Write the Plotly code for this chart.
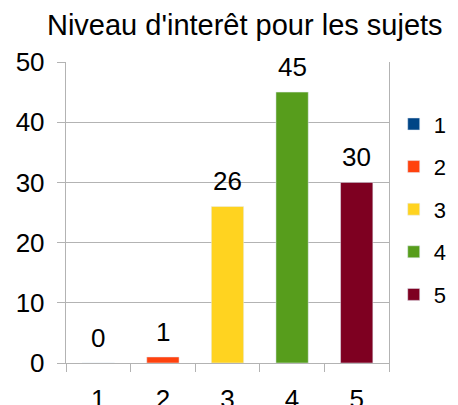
import plotly.graph_objects as go

categories = ["1", "2", "3", "4", "5"]
values = [0, 1, 26, 45, 30]
series_names = ["1", "2", "3", "4", "5"]
colors = ["#004586", "#ff420e", "#ffd320", "#579d1c", "#7e0021"]

font = "Liberation Sans, Arial, sans-serif"

fig = go.Figure()
for i, (cat, val, name, col) in enumerate(zip(categories, values, series_names, colors)):
    fig.add_trace(go.Bar(
        x=[cat], y=[val], name=name, marker_color=col, width=0.5,
        legendgroup=name,
    ))
    fig.add_annotation(x=i, y=val, xref="x", yref="y", text=str(val), showarrow=False,
                       yshift=25, yanchor="middle", xanchor="center",
                       font=dict(size=26, color="black", family=font))

fig.update_layout(
    width=458, height=405,
    margin=dict(l=58, r=77, t=54, b=50),
    paper_bgcolor="white", plot_bgcolor="white",
    barmode="overlay",
    font=dict(family=font, size=26, color="black"),
    title=dict(text="Niveau d'interêt pour les sujets", x=0.517, xanchor="center",
               y=0.958, yanchor="middle", font=dict(size=29, color="black")),
    showlegend=True,
    legend=dict(xref="container", yref="container", x=0.864, xanchor="left",
                y=0.765, yanchor="top", font=dict(size=22), indentation=-10,
                tracegroupgap=11, traceorder="grouped", itemwidth=30),
    xaxis=dict(type="category", categoryorder="array", categoryarray=categories,
               range=[-0.5, 4.5],
               tickson="boundaries", ticks="outside", ticklen=8, tickcolor="#b3b3b3",
               showline=True, linecolor="#b3b3b3", linewidth=1, showgrid=False,
               tickfont=dict(size=26), automargin=False, ticklabelstandoff=13),
    yaxis=dict(range=[0, 50], dtick=10, ticks="outside", ticklen=8, tickcolor="#b3b3b3",
               showline=True, linecolor="#b3b3b3", linewidth=1, mirror=True,
               gridcolor="#b3b3b3", gridwidth=1, zeroline=False,
               tickfont=dict(size=26), automargin=False, ticksuffix=" "),
)
fig.write_html("out.html")
